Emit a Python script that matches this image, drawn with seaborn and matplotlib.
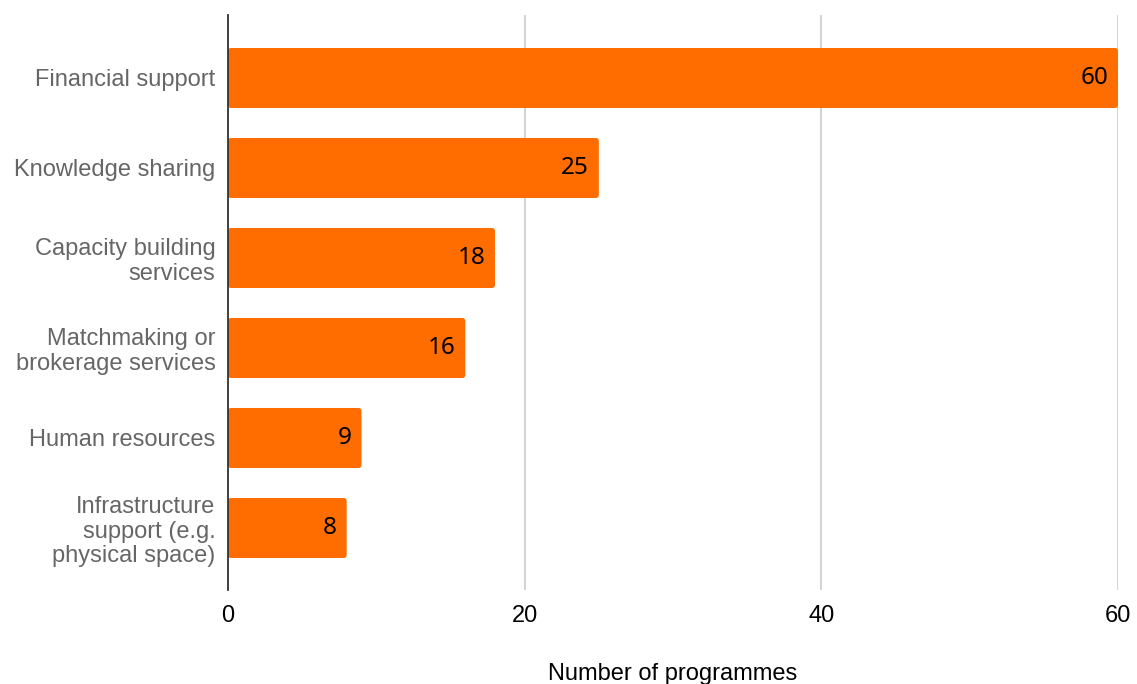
import matplotlib
matplotlib.use("Agg")
import matplotlib.pyplot as plt
import seaborn as sns
import pandas as pd
from matplotlib.patches import FancyBboxPatch

categories = ["Financial support", "Knowledge sharing", "Capacity building\nservices",
              "Matchmaking or\nbrokerage services", "Human resources",
              "Infrastructure\nsupport (e.g.\nphysical space)"]
values = [60, 25, 18, 16, 9, 8]
x_ticks = [0, 20, 40, 60]

df = pd.DataFrame({"category": categories, "value": values})

sns.set_style("white")
plt.rcParams['font.family'] = ['Liberation Sans', 'DejaVu Sans']

W, H = 1137, 684
fig = plt.figure(figsize=(W / 100, H / 100), dpi=100)
ax = fig.add_axes([228 / W, 1 - 590 / H, (1118 - 228) / W, (590 - 15) / H])

sns.barplot(data=df, x="value", y="category", color="#FF6D00", saturation=1,
            width=0.667, ax=ax, zorder=3)

# rounded corners
for p in list(ax.patches):
    x0, y0 = p.get_x(), p.get_y()
    w, h = p.get_width(), p.get_height()
    p.remove()
    fb = FancyBboxPatch((x0, y0), w, h, boxstyle="round,pad=0,rounding_size=0.2",
                        mutation_aspect=(5.5 + 0.189 + 0.7) / 60 * (890 / 575),
                        facecolor="#FF6D00", edgecolor="none", zorder=3)
    ax.add_patch(fb)

for i, v in enumerate(values):
    ax.text(v - 0.65, i, str(v), ha="right", va="center", fontsize=17.5,
            color="black", family=["Noto Sans", "DejaVu Sans"], zorder=4)

ax.set_xlim(0, 60)
ax.set_ylim(5.5 + 0.189, -0.7)
ax.set_xticks(x_ticks)
ax.set_xticklabels([str(t) for t in x_ticks], fontsize=17, color="black")
ax.tick_params(axis="x", length=0, pad=11)
ax.tick_params(axis="y", length=0, pad=9, labelsize=17, labelcolor="#666666")
for lab in ax.get_yticklabels():
    lab.set_linespacing(1.12)
ax.xaxis.grid(True, color="#CCCCCC", linewidth=1.2, zorder=0)
ax.yaxis.grid(False)
for s in ["top", "right", "bottom"]:
    ax.spines[s].set_visible(False)
ax.spines["left"].set_color("#333333")
ax.spines["left"].set_linewidth(1.3)
ax.spines["left"].set_zorder(5)
ax.set_ylabel("")
ax.set_xlabel("Number of programmes", fontsize=17, color="black", labelpad=26)

fig.savefig("out.png", dpi=100)
